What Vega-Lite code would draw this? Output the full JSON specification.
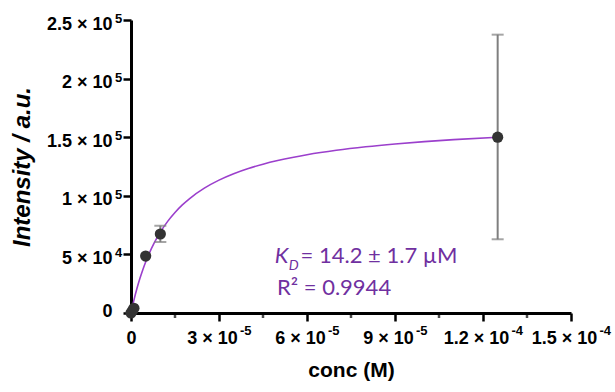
{
  "$schema": "https://vega.github.io/schema/vega-lite/v6.json",
  "width": 440,
  "height": 293,
  "autosize": {"type": "none"},
  "padding": {"left": 131, "top": 20, "right": 44, "bottom": 79},
  "background": "white",
  "config": {
    "view": {"stroke": null},
    "axis": {
      "grid": false,
      "domainColor": "black",
      "domainWidth": 3,
      "tickColor": "black",
      "tickWidth": 2.5,
      "tickSize": 8,
      "labelFont": "Liberation Sans",
      "labelFontWeight": "bold",
      "labelFontSize": 18,
      "labelColor": "black",
      "titleFont": "Liberation Sans",
      "titleFontWeight": "bold",
      "titleColor": "black"
    }
  },
  "datasets": {
    "pts": [
      {"c": 0, "i": 0},
      {"c": 5e-7, "i": 2000},
      {"c": 1e-6, "i": 4000},
      {"c": 5e-6, "i": 48600},
      {"c": 1e-5, "i": 67400},
      {"c": 1.25e-4, "i": 150000}
    ],
    "err": [
      {"c": 1e-5, "lo": 60600, "hi": 74500},
      {"c": 1.25e-4, "lo": 62900, "hi": 237500}
    ],
    "fit": [
      {"c": 0, "i": 0},
      {"c": 5e-7, "i": 5680},
      {"c": 1e-6, "i": 10987},
      {"c": 2e-6, "i": 20617},
      {"c": 3e-6, "i": 29128},
      {"c": 4e-6, "i": 36703},
      {"c": 5e-6, "i": 43490},
      {"c": 6e-6, "i": 49604},
      {"c": 8e-6, "i": 60180},
      {"c": 1e-5, "i": 69008},
      {"c": 1.25e-5, "i": 78184},
      {"c": 1.5e-5, "i": 85788},
      {"c": 1.75e-5, "i": 92192},
      {"c": 2e-5, "i": 97661},
      {"c": 2.5e-5, "i": 106505},
      {"c": 3e-5, "i": 113348},
      {"c": 3.5e-5, "i": 118801},
      {"c": 4e-5, "i": 123247},
      {"c": 4.5e-5, "i": 126943},
      {"c": 5e-5, "i": 130062},
      {"c": 5.5e-5, "i": 132731},
      {"c": 6e-5, "i": 135040},
      {"c": 7e-5, "i": 138836},
      {"c": 8e-5, "i": 141826},
      {"c": 9e-5, "i": 144242},
      {"c": 1e-4, "i": 146235},
      {"c": 1.1e-4, "i": 147907},
      {"c": 1.25e-4, "i": 149964}
    ],
    "minor": [
      {"c": 1.5e-5}, {"c": 4.5e-5}, {"c": 7.5e-5}, {"c": 1.05e-4}, {"c": 1.35e-4}
    ],
    "yexp": [
      {"i": 50000, "e": "4"},
      {"i": 100000, "e": "5"},
      {"i": 150000, "e": "5"},
      {"i": 200000, "e": "5"},
      {"i": 250000, "e": "5"}
    ],
    "xexp1": [
      {"c": 3e-5, "e": "-5"},
      {"c": 6e-5, "e": "-5"},
      {"c": 9e-5, "e": "-5"}
    ],
    "xexp2": [
      {"c": 1.2e-4, "e": "-4"},
      {"c": 1.5e-4, "e": "-4"}
    ]
  },
  "layer": [
    {
      "data": {"name": "fit"},
      "mark": {"type": "line", "color": "#9b3fcc", "strokeWidth": 1.6, "interpolate": "monotone"},
      "encoding": {
        "x": {
          "field": "c", "type": "quantitative",
          "scale": {"domain": [0, 0.00015], "nice": false},
          "axis": {
            "values": [0, 0.00003, 0.00006, 0.00009, 0.00012, 0.00015],
            "labelExpr": "round(datum.value*1e6) == 0 ? '0' : round(datum.value*1e6) == 30 ? '3 × 10' : round(datum.value*1e6) == 60 ? '6 × 10' : round(datum.value*1e6) == 90 ? '9 × 10' : round(datum.value*1e6) == 120 ? '1.2 × 10' : '1.5 × 10'",
            "labelPadding": 8,
            "labelOffset": {"condition": {"test": "datum.value == 0", "value": 0}, "value": -7},
            "labelFlush": false,
            "labelOverlap": false,
            "title": "conc (M)",
            "titleFontSize": 21,
            "titlePadding": 12
          }
        },
        "y": {
          "field": "i", "type": "quantitative",
          "scale": {"domain": [0, 250000], "nice": false},
          "axis": {
            "values": [0, 50000, 100000, 150000, 200000, 250000],
            "labelExpr": "datum.value == 0 ? '0' : datum.value == 50000 ? '5 × 10' : datum.value == 100000 ? '1 × 10' : datum.value == 150000 ? '1.5 × 10' : datum.value == 200000 ? '2 × 10' : '2.5 × 10'",
            "labelPadding": 11,
            "labelOffset": {"condition": {"test": "datum.value == 0", "value": -2}, "value": 4},
            "labelOverlap": false,
            "title": "Intensity / a.u.",
            "titleFontSize": 24,
            "titleFontStyle": "italic",
            "titlePadding": 12
          }
        }
      }
    },
    {
      "data": {"name": "minor"},
      "mark": {"type": "tick", "orient": "vertical", "color": "black", "size": 5, "thickness": 2.5, "yOffset": 2.5},
      "encoding": {
        "x": {"field": "c", "type": "quantitative"},
        "y": {"datum": 0, "type": "quantitative"}
      }
    },
    {
      "data": {"name": "yexp"},
      "mark": {"type": "text", "font": "Liberation Sans", "fontWeight": "bold", "fontSize": 13, "color": "black", "align": "left", "baseline": "alphabetic", "dx": -16, "dy": 3},
      "encoding": {
        "x": {"datum": 0, "type": "quantitative"},
        "y": {"field": "i", "type": "quantitative"},
        "text": {"field": "e"}
      }
    },
    {
      "data": {"name": "xexp1"},
      "mark": {"type": "text", "font": "Liberation Sans", "fontWeight": "bold", "fontSize": 13, "color": "black", "align": "left", "baseline": "alphabetic", "dx": 21, "dy": 22},
      "encoding": {
        "x": {"field": "c", "type": "quantitative"},
        "y": {"datum": 0, "type": "quantitative"},
        "text": {"field": "e"}
      }
    },
    {
      "data": {"name": "xexp2"},
      "mark": {"type": "text", "font": "Liberation Sans", "fontWeight": "bold", "fontSize": 13, "color": "black", "align": "left", "baseline": "alphabetic", "dx": 28.5, "dy": 22},
      "encoding": {
        "x": {"field": "c", "type": "quantitative"},
        "y": {"datum": 0, "type": "quantitative"},
        "text": {"field": "e"}
      }
    },
    {
      "data": {"name": "err"},
      "mark": {"type": "rule", "color": "#7f7f7f", "strokeWidth": 2},
      "encoding": {
        "x": {"field": "c", "type": "quantitative"},
        "y": {"field": "lo", "type": "quantitative"},
        "y2": {"field": "hi"}
      }
    },
    {
      "data": {"name": "err"},
      "transform": [{"fold": ["lo", "hi"], "as": ["k", "v"]}],
      "mark": {"type": "tick", "orient": "horizontal", "color": "#7f7f7f", "size": 12, "thickness": 2},
      "encoding": {
        "x": {"field": "c", "type": "quantitative"},
        "y": {"field": "v", "type": "quantitative"}
      }
    },
    {
      "data": {"name": "pts"},
      "mark": {"type": "circle", "color": "#333333", "opacity": 1, "size": 125},
      "encoding": {
        "x": {"field": "c", "type": "quantitative"},
        "y": {"field": "i", "type": "quantitative"}
      }
    },
    {
      "data": {"values": [{"c": 4.9e-5, "i": 42662, "t": "K"}]},
      "mark": {"type": "text", "font": "Lato", "fontSize": 22, "fontStyle": "italic", "color": "#7030a0", "align": "left", "baseline": "alphabetic"},
      "encoding": {
        "x": {"field": "c", "type": "quantitative"},
        "y": {"field": "i", "type": "quantitative"},
        "text": {"field": "t"}
      }
    },
    {
      "data": {"values": [{"c": 5.38e-5, "i": 36689, "t": "D"}]},
      "mark": {"type": "text", "font": "Lato", "fontSize": 14, "fontStyle": "italic", "color": "#7030a0", "align": "left", "baseline": "alphabetic"},
      "encoding": {
        "x": {"field": "c", "type": "quantitative"},
        "y": {"field": "i", "type": "quantitative"},
        "text": {"field": "t"}
      }
    },
    {
      "data": {"values": [{"c": 5.78e-5, "i": 42662, "t": "= 14.2 ± 1.7 µM"}, {"c": 4.977e-5, "i": 15358, "t": "R² = 0.9944"}]},
      "mark": {"type": "text", "font": "Lato", "fontSize": 22, "color": "#7030a0", "align": "left", "baseline": "alphabetic"},
      "encoding": {
        "x": {"field": "c", "type": "quantitative"},
        "y": {"field": "i", "type": "quantitative"},
        "text": {"field": "t"}
      }
    }
  ]
}
